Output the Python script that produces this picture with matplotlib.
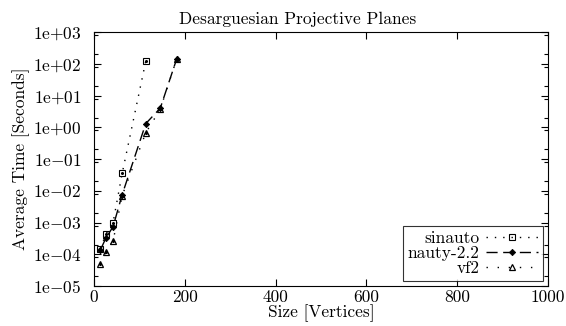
import numpy as np
import matplotlib.pyplot as plt
from matplotlib.ticker import FixedLocator, LogLocator, NullFormatter

plt.rcParams['font.family'] = ['cmr10', 'DejaVu Serif']
plt.rcParams['mathtext.fontset'] = 'cm'

sizes = [14, 26, 42, 62, 114, 146, 182]
sinauto_sizes = [14, 26, 42, 62, 114]
sinauto_time = [1.5e-4, 4.2e-4, 1.0e-3, 3.5e-2, 1.2e2]
nauty_time = [1.35e-4, 3.2e-4, 7.4e-4, 7.5e-3, 1.3, 4.0, 1.4e2]
vf2_time = [4.8e-5, 1.15e-4, 2.6e-4, 7.0e-3, 0.67, 3.7, 1.4e2]

x_ticks = [0, 200, 400, 600, 800, 1000]
y_ticks = [1e-5, 1e-4, 1e-3, 1e-2, 1e-1, 1e0, 1e1, 1e2, 1e3]
y_labels = [r'$\mathrm{1e{-}05}$', r'$\mathrm{1e{-}04}$', r'$\mathrm{1e{-}03}$',
            r'$\mathrm{1e{-}02}$', r'$\mathrm{1e{-}01}$', r'$\mathrm{1e{+}00}$',
            r'$\mathrm{1e{+}01}$', r'$\mathrm{1e{+}02}$', r'$\mathrm{1e{+}03}$']

fs = 12.5

fig = plt.figure(figsize=(5.66, 3.26), dpi=100)
ax = fig.add_axes([94 / 566, 40 / 326, 454 / 566, 254 / 326])

ax.plot(sinauto_sizes, sinauto_time, color='black', lw=1.0, linestyle=(0, (1, 5)),
        marker='s', ms=4.5, mfc='none', mew=0.8, label='sinauto')
ax.plot(sizes, nauty_time, color='black', lw=1.0, linestyle=(0, (8, 4)),
        marker='D', ms=3.2, mfc='black', mew=0.6, label='nauty-2.2')
ax.plot(sizes, vf2_time, color='black', lw=1.0, linestyle=(0, (1, 7)),
        marker='^', ms=5, mfc='none', mew=0.9, label='vf2')
# centre dots of the hollow markers
ax.plot(sinauto_sizes, sinauto_time, ls='none', marker='o', ms=1.2, color='black')
ax.plot(sizes, vf2_time, ls='none', marker='o', ms=1.2, color='black')

ax.set_yscale('log')
ax.set_xlim(0, 1000)
ax.set_ylim(1e-5, 1e3)
ax.xaxis.set_major_locator(FixedLocator(x_ticks))
ax.set_xticklabels([str(t) for t in x_ticks])
ax.yaxis.set_major_locator(FixedLocator(y_ticks))
ax.set_yticklabels(y_labels)
ax.yaxis.set_minor_locator(LogLocator(base=10, subs=[2, 8], numticks=30))
ax.yaxis.set_minor_formatter(NullFormatter())

ax.tick_params(which='both', direction='in', top=True, right=True, labelsize=fs, width=0.8)
ax.tick_params(which='major', length=5)
ax.tick_params(axis='x', which='major', pad=3)
ax.tick_params(axis='y', which='major', pad=9)
ax.tick_params(which='minor', length=3)
for s in ax.spines.values():
    s.set_linewidth(0.8)

ax.set_title('Desarguesian Projective Planes', fontsize=fs, pad=6, x=0.449)
ax.set_xlabel('Size [Vertices]', fontsize=fs, labelpad=-1)
ax.set_ylabel('Average Time [Seconds]', fontsize=fs, labelpad=2)

leg = ax.legend(loc='lower right', markerfirst=False, fontsize=fs, frameon=True,
                fancybox=False, edgecolor='black', handlelength=3.0,
                borderpad=0.25, labelspacing=0.0, handletextpad=0.4,
                borderaxespad=0.3)
leg.get_frame().set_linewidth(0.8)

fig.savefig('out.png', dpi=100)
